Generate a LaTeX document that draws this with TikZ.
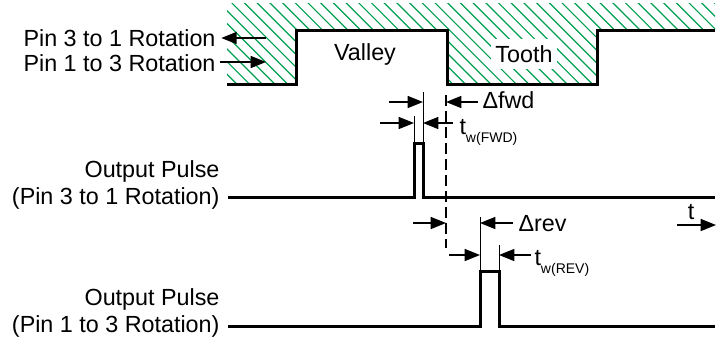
\documentclass[tikz,border=0pt]{standalone}
\usepackage{fontspec}
\setmainfont{Liberation Sans}
\usetikzlibrary{arrows.meta}

\definecolor{hatchgreen}{RGB}{0,160,80}

\tikzset{every picture/.style={line width=0.75pt}}
\tikzset{
  lbl/.style={inner sep=0pt, font=\fontsize{17.5}{20.25}\selectfont},
  wave/.style={line width=2.25pt, line join=miter},
  dimarrow/.style={line width=1.1pt, -{Triangle[length=11.5pt,width=9pt]}},
  extline/.style={line width=0.75pt},
  markline/.style={line width=2.1pt, dash pattern=on 8pt off 4pt},
}
\newcommand{\subw}[1]{\raisebox{-6.5pt}{\fontsize{10.5}{12}\selectfont #1}}

\begin{document}
\begin{tikzpicture}[x=0.75pt,y=0.75pt,yscale=-1,xscale=1]
\useasboundingbox (0,0) rectangle (724,337);

%Hatched target wheel
\begin{scope}
\clip (227,3) -- (715,3) -- (715,30) -- (597,30) -- (597,84) -- (447,84) -- (447,30) -- (296,30) -- (296,84) -- (227,84) -- cycle;
\foreach \c in {140,152.7,...,720}
  \draw [hatchgreen, line width=0.9pt] (\c,0) -- ++(100,100);
\end{scope}
%Wheel outline
\draw [wave] (227,84) -- (296,84) -- (296,30) -- (447,30) -- (447,84) -- (597,84) -- (597,30) -- (715,30) ;

% Text Node
\node [lbl] (valley) at (365,54) {Valley};
% Text Node
\node [lbl, fill=white, inner xsep=3pt, inner ysep=5pt] (tooth) at (524,54) {Tooth};

% Text Node
\node [lbl, anchor=east] (pin31) at (216,38) {Pin 3 to 1 Rotation};
% Text Node
\node [lbl, anchor=east] (pin13) at (216,63) {Pin 1 to 3 Rotation};
\coordinate (hatch31) at (266,38);
\coordinate (hatch13) at (266,62);
\draw [dimarrow] (hatch31) -- ([xshift=4pt]pin31.east |- hatch31);
\draw [dimarrow] ([xshift=3pt]pin13.east |- hatch13) -- (hatch13);

% Text Node
\node [lbl, anchor=east, align=right] (out31) at (220,185) {Output Pulse\\(Pin 3 to 1 Rotation)};
% Text Node
\node [lbl, anchor=east, align=right] (out13) at (220,313) {Output Pulse\\(Pin 1 to 3 Rotation)};

%Output pulses
\draw [wave] (228,197) -- (414,197) -- (414,143) -- (423,143) -- (423,197) -- (715,197) ;
\draw [wave] (228,326) -- (480,326) -- (480,271) -- (499,271) -- (499,326) -- (715,326) ;

%Tooth edge marker
\draw [markline] (446,95) -- (446,248) ;

%Extension lines
\draw [extline] (423,92) -- (423,143) ;
\draw [extline] (414,116) -- (414,143) ;
\draw [extline] (480,217) -- (480,271) ;
\draw [extline] (499,245) -- (499,271) ;

%Delta fwd
\coordinate (dfwdL) at (389,102);
\coordinate (dfwdR) at (478,102);
\draw [dimarrow] (dfwdL) -- (423,102);
\draw [dimarrow] (dfwdR) -- (446,102);
\node [lbl, anchor=west] (dfwd) at (482,100) {Δfwd};

%tw FWD
\coordinate (twfL) at (380,123);
\coordinate (twfR) at (453,123);
\draw [dimarrow] (twfL) -- (414,123);
\draw [dimarrow] (twfR) -- (423,123);
\node [lbl, anchor=base west] (twf) at (459,134) {t\subw{w(FWD)}};

%Delta rev
\coordinate (drevL) at (413,223);
\coordinate (drevR) at (513,223);
\draw [dimarrow] (drevL) -- (446,223);
\draw [dimarrow] (drevR) -- (480,223);
\node [lbl, anchor=west] (drev) at (518,224) {Δrev};

%tw REV
\coordinate (twrL) at (449,255);
\coordinate (twrR) at (531,255);
\draw [dimarrow] (twrL) -- (480,255);
\draw [dimarrow] (twrR) -- (499,255);
\node [lbl, anchor=base west] (twr) at (534,265) {t\subw{w(REV)}};

%Time axis
\coordinate (tstart) at (677,225);
\coordinate (tend) at (716,225);
\draw [dimarrow] (tstart) -- (tend);
\node [lbl] (tlbl) at (691,212) {t};

\end{tikzpicture}
\end{document}
